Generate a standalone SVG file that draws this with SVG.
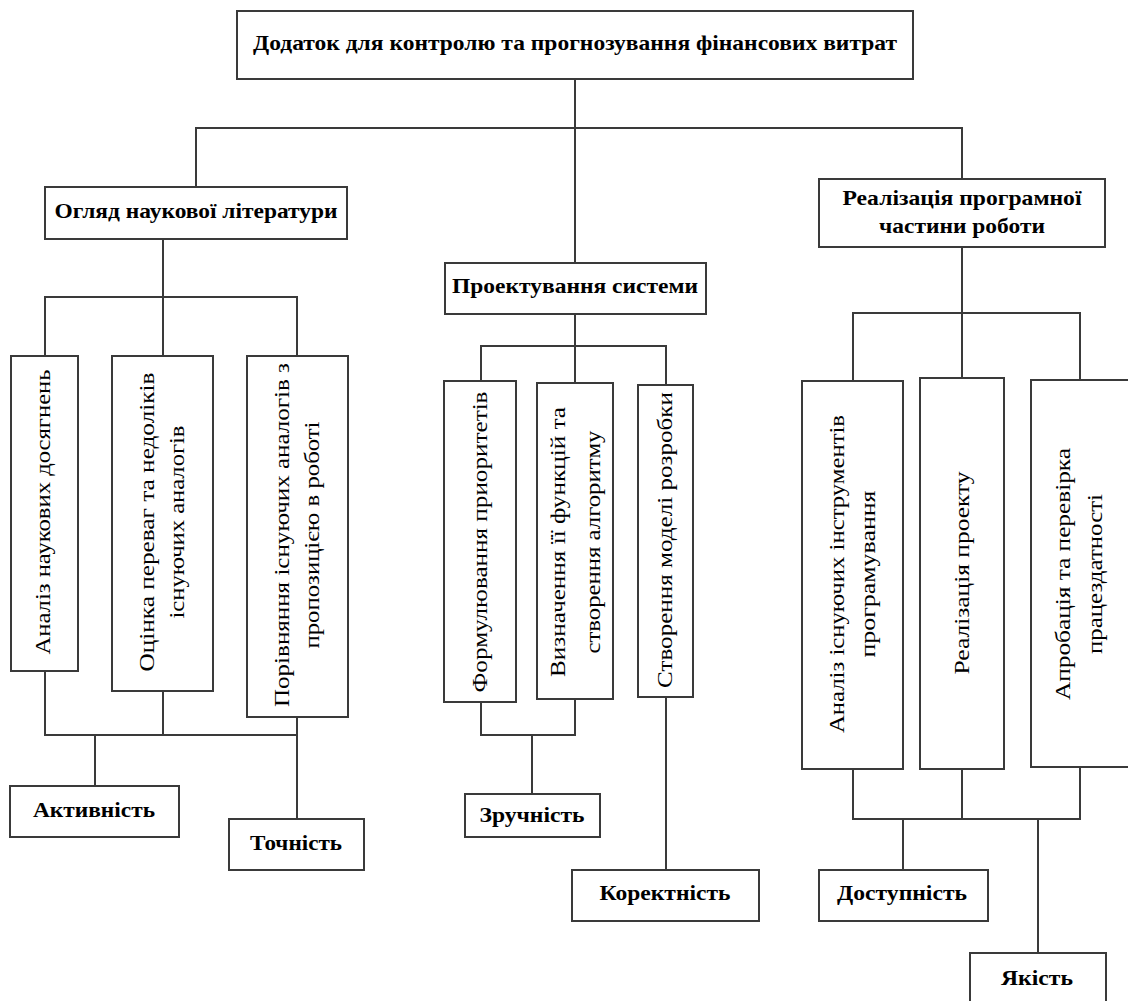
<svg xmlns="http://www.w3.org/2000/svg" width="1128" height="1001" viewBox="0 0 1128 1001">
<style>
.b{fill:#fff;stroke:#3a3a3a;stroke-width:2}
.c{fill:none;stroke:#3a3a3a;stroke-width:2}
.h{font-family:"Liberation Serif","Times New Roman",serif;font-weight:bold;font-size:22px;text-anchor:middle;fill:#000}
.v{font-family:"Liberation Serif","Times New Roman",serif;font-size:22px;text-anchor:middle;fill:#000}
</style>
<rect width="1128" height="1001" fill="#fff"/>
<g id="connectors">
<path class="c" d="M575,78 V263 M196,187 V128 H962 V179"/>
<path class="c" d="M163,239 V356 M45,356 V297 H297 V356"/>
<path class="c" d="M45,671 V735 H297 M163,691 V735 M297,717 V819 M95,735 V786"/>
<path class="c" d="M575,314 V383 M481,381 V346 H666 V385"/>
<path class="c" d="M481,702 V735 H575 V699 M532,735 V794 M666,697 V870"/>
<path class="c" d="M962,247 V378 M853,381 V313 H1080 V380"/>
<path class="c" d="M853,769 V819 H1080 V767 M962,769 V819 M903,819 V870 M1038,819 V953"/>
</g>
<g id="root"><rect class="b" x="237" y="11" width="676" height="68"/><text class="h" x="575" y="50" textLength="644" lengthAdjust="spacingAndGlyphs">Додаток для контролю та прогнозування фінансових витрат</text></g>
<g id="ohliad"><rect class="b" x="45" y="187" width="302" height="52"/><text class="h" x="196" y="218" textLength="283" lengthAdjust="spacingAndGlyphs">Огляд наукової літератури</text></g>
<g id="realizatsiia"><rect class="b" x="819" y="179" width="286" height="68"/><text class="h" x="962" y="205" textLength="239" lengthAdjust="spacingAndGlyphs">Реалізація програмної</text><text class="h" x="962" y="233" textLength="166" lengthAdjust="spacingAndGlyphs">частини роботи</text></g>
<g id="proektuvannia"><rect class="b" x="445" y="263" width="261" height="51"/><text class="h" x="575" y="293" textLength="246" lengthAdjust="spacingAndGlyphs">Проектування системи</text></g>
<g id="l1"><rect class="b" x="11" y="356" width="67" height="315"/><text class="v" transform="translate(0,512) rotate(-90)" x="0" y="50" textLength="285" lengthAdjust="spacingAndGlyphs">Аналіз наукових досягнень</text></g>
<g id="l2"><rect class="b" x="112" y="356" width="101" height="335"/><g transform="translate(0,522) rotate(-90)"><text class="v" x="0" y="154" textLength="299" lengthAdjust="spacingAndGlyphs">Оцінка переваг та недоліків</text><text class="v" x="0" y="184" textLength="193" lengthAdjust="spacingAndGlyphs">існуючих аналогів</text></g></g>
<g id="l3"><rect class="b" x="247" y="356" width="101" height="361"/><g transform="translate(0,535) rotate(-90)"><text class="v" x="0" y="289" textLength="344" lengthAdjust="spacingAndGlyphs">Порівняння існуючих аналогів з</text><text class="v" x="0" y="319" textLength="227" lengthAdjust="spacingAndGlyphs">пропозицією в роботі</text></g></g>
<g id="m1"><rect class="b" x="444" y="381" width="72" height="321"/><text class="v" transform="translate(0,542) rotate(-90)" x="0" y="487" textLength="301" lengthAdjust="spacingAndGlyphs">Формулювання приоритетів</text></g>
<g id="m2"><rect class="b" x="537" y="383" width="76" height="316"/><g transform="translate(0,542) rotate(-90)"><text class="v" x="0" y="565" textLength="270" lengthAdjust="spacingAndGlyphs">Визначення її функцій та</text><text class="v" x="0" y="600" textLength="223" lengthAdjust="spacingAndGlyphs">створення алгоритму</text></g></g>
<g id="m3"><rect class="b" x="638" y="385" width="55" height="312"/><text class="v" transform="translate(0,540) rotate(-90)" x="0" y="672" textLength="296" lengthAdjust="spacingAndGlyphs">Створення моделі розробки</text></g>
<g id="r1"><rect class="b" x="802" y="381" width="101" height="388"/><g transform="translate(0,574) rotate(-90)"><text class="v" x="0" y="844" textLength="318" lengthAdjust="spacingAndGlyphs">Аналіз існуючих інструментів</text><text class="v" x="0" y="875" textLength="167" lengthAdjust="spacingAndGlyphs">програмування</text></g></g>
<g id="r2"><rect class="b" x="920" y="378" width="84" height="391"/><text class="v" transform="translate(0,573) rotate(-90)" x="0" y="969" textLength="203" lengthAdjust="spacingAndGlyphs">Реалізація проекту</text></g>
<g id="r3"><rect class="b" x="1031" y="380" width="100" height="387"/><g transform="translate(0,574) rotate(-90)"><text class="v" x="0" y="1070" textLength="252" lengthAdjust="spacingAndGlyphs">Апробація та перевірка</text><text class="v" x="0" y="1102" textLength="160" lengthAdjust="spacingAndGlyphs">працездатності</text></g></g>
<g id="aktyvnist"><rect class="b" x="10" y="786" width="169" height="51"/><text class="h" x="94" y="817" textLength="122" lengthAdjust="spacingAndGlyphs">Активність</text></g>
<g id="tochnist"><rect class="b" x="229" y="819" width="135" height="51"/><text class="h" x="296" y="850" textLength="92" lengthAdjust="spacingAndGlyphs">Точність</text></g>
<g id="zruchnist"><rect class="b" x="465" y="794" width="135" height="43"/><text class="h" x="532" y="822" textLength="105" lengthAdjust="spacingAndGlyphs">Зручність</text></g>
<g id="korektnist"><rect class="b" x="572" y="870" width="187" height="51"/><text class="h" x="665" y="900" textLength="131" lengthAdjust="spacingAndGlyphs">Коректність</text></g>
<g id="dostupnist"><rect class="b" x="819" y="870" width="169" height="51"/><text class="h" x="902" y="900" textLength="130" lengthAdjust="spacingAndGlyphs">Доступність</text></g>
<g id="yakist"><rect class="b" x="970" y="953" width="136" height="60"/><text class="h" x="1037" y="985" textLength="72" lengthAdjust="spacingAndGlyphs">Якість</text></g>
</svg>
